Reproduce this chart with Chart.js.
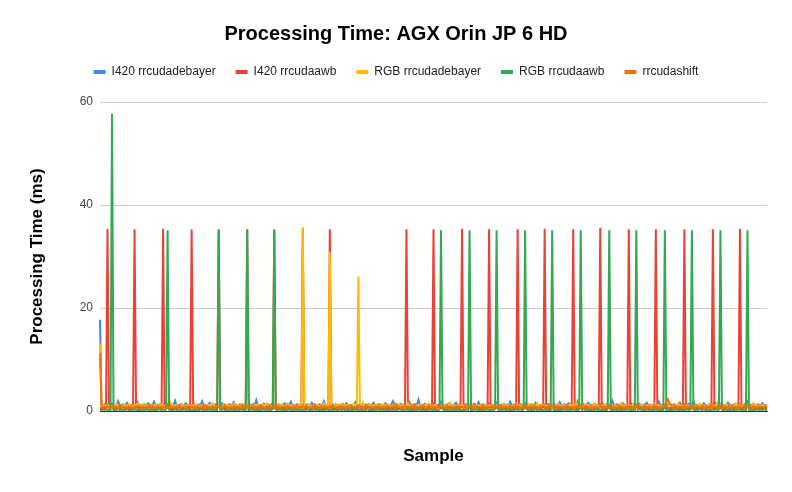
<!DOCTYPE html>
<html>
<head>
<meta charset="utf-8">
<script src="https://cdn.jsdelivr.net/npm/chart.js@4.4.1/dist/chart.umd.min.js"></script>
<style>
  html, body { margin: 0; padding: 0; background: #fff; }
  #wrap { width: 792px; height: 492px; position: relative; }
</style>
</head>
<body>
<div id="wrap"><canvas id="chart"></canvas></div>
<script>
// series names as in the legend
const seriesNames = ['I420 rrcudadebayer', 'I420 rrcudaawb', 'RGB rrcudadebayer', 'RGB rrcudaawb', 'rrcudashift'];
const seriesColors = ['#4285F4', '#EA4335', '#FBBC04', '#34A853', '#FF6D01'];

// per-sample times (ms)
const blueBase = [
  1.1,1.2,1.1,1.3,1.1,1.2,1.1,1.2,1.4,1.1, 1.2,1.1,1.9,1.2,1.1,1.3,1.1,1.2,1.6,1.1,
  1.2,1.1,1.3,1.1,1.2,1.7,1.1,1.2,1.1,1.3, 1.2,1.1,1.5,1.2,1.1,1.2,1.8,1.1,1.2,1.1,
  1.3,1.1,1.2,1.1,1.6,1.2,1.1,1.3,1.1,1.2, 2.0,1.1,1.2,1.1,1.3,1.2,1.1,1.5,1.2,1.1,
  1.2,1.1,1.4,1.1,1.2,1.1,1.3,1.2,1.9,1.1, 1.2,1.1,1.2,1.6,1.1,1.2,1.1,1.3,1.1,1.2,
  1.1,1.5,1.2,1.1,1.2,1.1,1.3,1.1,1.2,1.7, 1.1,1.2,1.1,1.3,1.2,1.1,1.2,1.4,1.1,1.2,
  1.2,1.1,1.3,1.1,2.1,1.2,1.1,1.2,1.1,1.4, 1.2,1.1,1.3,1.1,1.2,1.6,1.1,1.2,1.1,1.3,
  1.1,1.2,1.1,1.5,1.2,1.1,1.2,1.8,1.1,1.2, 1.1,1.3,1.2,1.1,1.4,1.1,1.2,1.1,1.3,1.2,
  1.1,1.6,1.2,1.1,1.2,1.1,1.3,1.2,1.1,1.9, 1.2,1.1,1.2,1.1,1.4,1.2,1.1,1.3,1.1,1.2,
  1.2,1.1,1.3,1.1,1.5,1.2,1.1,1.2,1.1,1.3, 1.7,1.1,1.2,1.1,1.2,1.4,1.1,1.2,1.1,1.3,
  1.1,1.2,1.6,1.1,1.2,1.1,1.3,1.2,1.1,1.2, 1.5,1.1,1.2,1.1,1.3,1.9,1.2,1.1,1.2,1.1,
  1.4,1.2,1.1,1.3,1.1,1.2,1.7,1.1,1.2,1.1, 1.3,1.2,2.2,1.1,1.2,1.1,1.4,1.2,1.1,1.3,
  1.1,1.2,1.5,1.1,1.2,1.1,1.3,1.8,1.1,1.2, 1.1,1.2,1.4,1.1,1.2,1.1,1.3,1.6,1.1,1.2,
  1.2,1.1,1.3,1.1,1.2,1.5,1.1,1.2,1.1,1.4, 1.2,1.1,1.7,1.2,1.1,1.3,1.1,1.2,1.1,1.5,
  1.1,1.2,1.1,1.3,1.6,1.1,1.2,1.1,1.2,1.4, 1.1,1.2,1.1,1.8,1.2,1.1,1.3,1.1,1.2,1.1,
  1.3,1.1,1.2,1.5,1.1,1.2,1.1,1.3,1.2,1.1, 1.6,1.2,1.1,1.2,1.1,1.4,1.2,1.1,1.3,1.1,
  1.2,1.1,1.4,1.1,1.2,1.1,1.7,1.2,1.1,1.3, 1.1,1.2,1.5,1.1,1.2,1.1,1.3,1.2,1.9,1.1,
  1.2,1.1,1.3,1.1,1.2,1.6,1.1,1.2,1.1,1.4, 1.2,1.1,1.2,1.1,1.5,1.2,1.1,1.3,1.1,1.2,
  1.1,2.0,1.2,1.1,1.3,1.1,1.2,1.1,1.5,1.2, 1.1,1.2,1.1,1.7,1.2,1.1,1.3,1.1,1.2,1.4,
  1.1,1.2,1.1,1.3,1.6,1.1,1.2,1.1,1.2,1.4, 1.1,1.2,1.8,1.1,1.2,1.1,1.3,1.2,1.1,1.5,
  1.2,1.1,1.3,1.1,1.2,1.1,1.6,1.2,1.1,1.3, 1.1,1.2,1.4,1.1,1.2,1.9,1.1,1.2,1.1,1.3,
  1.1,1.2,1.5,1.1,1.2,1.1,1.3,1.2,1.1,1.7, 1.2,1.1,1.2,1.4,1.1,1.2,1.1,1.3,1.6,1.1,
  1.2,1.1,1.3,1.1,1.2,1.5,1.1,1.2,1.1,1.3, 1.2,1.8,1.1,1.2,1.1,1.4,1.2,1.1,1.3,1.1,
  1.2,1.5,1.1,1.2,1.1
];
const redBase = [
  0.6,0.5,0.7,0.5,0.6,0.8,0.5,0.6,0.7,0.5, 0.6,0.5,0.7,0.6,0.5,0.8,0.6,0.5,0.7,0.6,
  0.5,0.7,0.6,0.5,0.8,0.6,0.5,0.7,0.5,0.6, 0.7,0.5,0.6,0.8,0.5,0.6,0.7,0.5,0.6,0.5,
  0.7,0.5,0.6,0.8,0.5,0.6,0.7,0.5,0.6,0.5, 0.7,0.6,0.5,0.8,0.6,0.5,0.7,0.6,0.5,0.7,
  0.5,0.6,0.8,0.5,0.6,0.7,0.5,0.6,0.5,0.7, 0.6,0.5,0.8,0.6,0.5,0.7,0.5,0.6,0.7,0.5,
  0.6,0.7,0.5,0.6,0.5,0.8,0.6,0.5,0.7,0.6, 0.5,0.7,0.6,0.5,0.8,0.5,0.6,0.7,0.5,0.6,
  0.8,0.5,0.6,0.7,0.5,0.6,0.5,0.7,0.6,0.5, 0.8,0.6,0.5,0.7,0.5,0.6,0.7,0.5,0.6,0.8,
  0.5,0.6,0.7,0.5,0.6,0.8,0.5,0.7,0.6,0.5, 0.6,0.7,0.5,0.8,0.6,0.5,0.7,0.5,0.6,0.7,
  0.6,0.5,0.8,0.6,0.5,0.7,0.6,0.5,0.7,0.5, 0.6,0.8,0.5,0.6,0.7,0.5,0.6,0.5,0.7,0.6,
  0.5,0.7,0.6,0.5,0.8,0.5,0.6,0.7,0.5,0.6, 0.7,0.5,0.6,0.8,0.5,0.7,0.6,0.5,0.6,0.7,
  0.6,0.5,0.7,0.6,0.5,0.8,0.6,0.5,0.7,0.5, 0.6,0.7,0.5,0.6,0.8,0.5,0.6,0.7,0.5,0.6,
  0.7,0.6,0.5,0.8,0.5,0.6,0.7,0.5,0.6,0.5, 0.8,0.6,0.5,0.7,0.6,0.5,0.7,0.6,0.5,0.8,
  0.5,0.6,0.7,0.5,0.6,0.8,0.5,0.6,0.7,0.5, 0.6,0.5,0.7,0.8,0.5,0.6,0.7,0.5,0.6,0.5,
  0.7,0.5,0.6,0.8,0.5,0.7,0.6,0.5,0.6,0.7, 0.5,0.8,0.6,0.5,0.7,0.5,0.6,0.7,0.5,0.6,
  0.6,0.8,0.5,0.6,0.7,0.5,0.6,0.5,0.8,0.6, 0.5,0.7,0.6,0.5,0.7,0.6,0.5,0.8,0.5,0.6,
  0.7,0.5,0.6,0.7,0.5,0.8,0.6,0.5,0.7,0.6, 0.5,0.6,0.8,0.5,0.6,0.7,0.5,0.6,0.7,0.5,
  0.6,0.7,0.5,0.8,0.6,0.5,0.7,0.5,0.6,0.8, 0.5,0.6,0.7,0.5,0.6,0.5,0.8,0.6,0.5,0.7,
  0.5,0.6,0.8,0.5,0.7,0.6,0.5,0.7,0.6,0.5, 0.8,0.6,0.5,0.7,0.5,0.6,0.7,0.5,0.8,0.6,
  0.7,0.5,0.6,0.7,0.5,0.8,0.6,0.5,0.6,0.7, 0.5,0.6,0.8,0.5,0.7,0.6,0.5,0.7,0.6,0.5,
  0.6,0.8,0.5,0.6,0.7,0.5,0.6,0.8,0.5,0.7, 0.6,0.5,0.7,0.6,0.5,0.8,0.6,0.5,0.7,0.6,
  0.5,0.7,0.6,0.5,0.8,0.6,0.5,0.7,0.6,0.5, 0.7,0.5,0.6,0.8,0.5,0.6,0.7,0.5,0.6,0.8,
  0.6,0.5,0.7,0.6,0.5,0.8,0.6,0.7,0.5,0.6, 0.5,0.7,0.6,0.5,0.8,0.6,0.5,0.7,0.6,0.5,
  0.7,0.6,0.5,0.8,0.6,0.5,0.7,0.5,0.6,0.7, 0.5,0.8,0.6,0.5,0.7,0.6,0.5,0.6,0.7,0.5,
  0.6,0.5,0.7,0.6,0.5
];
const yellowBase = [
  1.0,1.2,0.9,1.1,1.0,1.3,0.9,1.1,1.0,1.2, 0.9,1.4,1.0,1.1,0.9,1.2,1.0,1.1,0.9,1.3,
  1.0,1.1,0.9,1.2,1.0,1.5,0.9,1.1,1.0,1.2, 0.9,1.1,1.0,1.3,0.9,1.1,1.0,1.2,0.9,1.1,
  1.0,1.3,0.9,1.1,1.0,1.2,0.9,1.6,1.0,1.1, 0.9,1.2,1.0,1.1,0.9,1.3,1.0,1.1,0.9,1.2,
  1.0,1.1,0.9,1.4,1.0,1.2,0.9,1.1,1.0,1.3, 0.9,1.1,1.0,1.2,0.9,1.5,1.0,1.1,0.9,1.2,
  1.0,1.1,0.9,1.3,1.0,1.2,0.9,1.1,1.0,1.4, 0.9,1.1,1.0,1.2,0.9,1.1,1.0,1.6,0.9,1.2,
  1.0,1.1,0.9,1.2,1.0,1.3,0.9,1.1,1.0,1.2, 0.9,1.5,1.0,1.1,0.9,1.2,1.0,1.1,0.9,1.3,
  1.0,1.2,0.9,1.1,1.0,1.4,0.9,1.1,1.0,1.2, 0.9,1.1,1.0,1.3,0.9,1.2,1.0,1.1,0.9,1.2,
  1.0,1.1,0.9,1.3,1.0,1.2,0.9,1.1,1.0,1.5, 0.9,1.1,1.0,1.2,0.9,1.1,1.0,1.3,0.9,1.2,
  1.0,1.4,0.9,1.1,1.0,1.2,0.9,1.1,1.0,1.3, 0.9,1.2,1.0,1.1,0.9,1.6,1.0,1.1,0.9,1.2,
  1.0,1.1,0.9,1.2,1.0,1.3,0.9,1.1,1.0,1.2, 0.9,1.4,1.0,1.1,0.9,1.2,1.0,1.1,0.9,1.3,
  1.0,1.2,0.9,1.1,1.0,1.5,0.9,1.1,1.0,1.2, 0.9,1.1,1.0,1.3,0.9,1.1,1.0,1.2,0.9,1.4,
  1.0,1.1,0.9,1.2,1.0,1.1,0.9,1.3,1.0,1.2, 0.9,1.1,1.0,1.6,0.9,1.1,1.0,1.2,0.9,1.1,
  1.0,1.3,0.9,1.1,1.0,1.2,0.9,1.4,1.0,1.1, 0.9,1.2,1.0,1.1,0.9,1.3,1.0,1.2,0.9,1.1,
  1.0,1.2,0.9,1.5,1.0,1.1,0.9,1.2,1.0,1.3, 0.9,1.1,1.0,1.2,0.9,1.1,1.0,1.4,0.9,1.2,
  1.0,1.1,0.9,1.2,1.0,1.3,0.9,1.1,1.0,1.2, 0.9,1.5,1.0,1.1,0.9,1.2,1.0,1.1,0.9,1.3,
  1.0,1.2,0.9,1.1,1.0,1.4,0.9,1.1,1.0,1.2, 0.9,1.1,1.0,1.3,0.9,1.2,1.0,1.6,0.9,1.1,
  1.0,1.1,0.9,1.3,1.0,1.2,0.9,1.1,1.0,1.4, 0.9,1.1,1.0,1.2,0.9,1.1,1.0,1.3,0.9,1.2,
  1.0,1.2,0.9,1.1,1.0,1.3,0.9,1.5,1.0,1.1, 0.9,1.2,1.0,1.1,0.9,1.4,1.0,1.2,0.9,1.1,
  1.0,1.3,0.9,1.1,1.0,1.2,0.9,1.1,1.0,1.4, 0.9,1.2,1.0,1.1,0.9,1.3,1.0,1.1,0.9,1.2,
  1.0,1.1,0.9,1.2,1.0,1.5,0.9,1.1,1.0,1.2, 0.9,1.1,1.0,1.3,0.9,1.2,1.0,1.1,0.9,1.4,
  1.0,1.2,0.9,1.1,1.0,1.3,0.9,1.2,1.0,1.1, 0.9,1.6,1.0,1.2,0.9,1.1,1.0,1.3,0.9,1.1,
  1.0,1.1,0.9,1.4,1.0,1.2,0.9,1.1,1.0,1.3, 0.9,1.2,1.0,1.1,0.9,1.5,1.0,1.2,0.9,1.1,
  1.0,1.2,0.9,1.1,1.0
];
const greenBase = [
  0.3,0.2,0.3,0.2,0.4,0.2,0.3,0.2,0.3,0.1, 0.3,0.2,0.4,0.2,0.3,0.2,0.3,0.2,0.4,0.2,
  0.2,0.3,0.2,0.4,0.2,0.3,0.1,0.3,0.2,0.3, 0.2,0.4,0.2,0.3,0.2,0.3,0.1,0.3,0.2,0.4,
  0.3,0.2,0.4,0.2,0.3,0.2,0.3,0.1,0.3,0.2, 0.4,0.2,0.3,0.2,0.3,0.2,0.4,0.2,0.3,0.1,
  0.2,0.3,0.2,0.3,0.1,0.3,0.2,0.4,0.2,0.3, 0.2,0.3,0.2,0.4,0.2,0.3,0.1,0.3,0.2,0.3,
  0.3,0.2,0.4,0.2,0.3,0.2,0.3,0.2,0.4,0.1, 0.3,0.2,0.3,0.2,0.4,0.2,0.3,0.2,0.3,0.1,
  0.2,0.4,0.2,0.3,0.2,0.3,0.1,0.3,0.2,0.4, 0.2,0.3,0.2,0.3,0.2,0.4,0.1,0.3,0.2,0.3,
  0.3,0.2,0.3,0.1,0.3,0.2,0.4,0.2,0.3,0.2, 0.3,0.2,0.4,0.1,0.3,0.2,0.3,0.2,0.4,0.2,
  0.2,0.3,0.2,0.4,0.2,0.3,0.2,0.3,0.1,0.3, 0.2,0.4,0.2,0.3,0.2,0.3,0.2,0.4,0.1,0.3,
  0.3,0.2,0.4,0.2,0.3,0.1,0.3,0.2,0.3,0.2, 0.4,0.2,0.3,0.2,0.3,0.1,0.3,0.2,0.4,0.2,
  0.2,0.3,0.1,0.3,0.2,0.4,0.2,0.3,0.2,0.3, 0.2,0.3,0.1,0.4,0.2,0.3,0.2,0.3,0.2,0.4,
  0.3,0.2,0.3,0.2,0.4,0.2,0.3,0.1,0.3,0.2, 0.3,0.2,0.4,0.2,0.3,0.2,0.3,0.1,0.3,0.2,
  0.4,0.2,0.3,0.2,0.3,0.1,0.3,0.2,0.4,0.2, 0.3,0.2,0.3,0.2,0.4,0.1,0.3,0.2,0.3,0.2,
  0.3,0.1,0.3,0.2,0.4,0.2,0.3,0.2,0.3,0.2, 0.4,0.2,0.3,0.1,0.3,0.2,0.3,0.2,0.4,0.2,
  0.2,0.3,0.2,0.4,0.1,0.3,0.2,0.3,0.2,0.4, 0.2,0.3,0.2,0.3,0.1,0.3,0.2,0.4,0.2,0.3,
  0.3,0.2,0.3,0.2,0.4,0.2,0.3,0.1,0.3,0.2, 0.4,0.2,0.3,0.2,0.3,0.2,0.4,0.1,0.3,0.2,
  0.2,0.4,0.2,0.3,0.2,0.3,0.1,0.3,0.2,0.4, 0.2,0.3,0.2,0.3,0.2,0.4,0.2,0.3,0.1,0.3,
  0.3,0.2,0.4,0.2,0.3,0.2,0.3,0.1,0.3,0.2, 0.4,0.2,0.3,0.2,0.3,0.2,0.3,0.1,0.4,0.2,
  0.2,0.3,0.2,0.3,0.2,0.4,0.1,0.3,0.2,0.3, 0.2,0.4,0.2,0.3,0.1,0.3,0.2,0.3,0.2,0.4,
  0.3,0.2,0.3,0.1,0.4,0.2,0.3,0.2,0.3,0.2, 0.4,0.2,0.3,0.1,0.3,0.2,0.4,0.2,0.3,0.2,
  0.2,0.3,0.2,0.4,0.2,0.3,0.2,0.3,0.1,0.3, 0.2,0.4,0.2,0.3,0.2,0.3,0.1,0.3,0.2,0.4,
  0.3,0.2,0.4,0.2,0.3,0.1,0.3,0.2,0.3,0.2, 0.4,0.2,0.3,0.2,0.3,0.1,0.4,0.2,0.3,0.2,
  0.2,0.3,0.1,0.3,0.2,0.4,0.2,0.3,0.2,0.3, 0.2,0.4,0.1,0.3,0.2,0.3,0.2,0.4,0.2,0.3,
  0.3,0.2,0.4,0.2,0.3
];
const orangeBase = [
  0.7,0.9,0.5,0.8,0.6,1.0,0.5,0.8,0.7,0.9, 0.6,0.8,0.5,1.1,0.7,0.9,0.6,0.8,0.5,0.9,
  0.6,0.8,0.5,0.9,0.7,1.0,0.6,0.8,0.5,0.9, 0.7,0.8,0.6,1.2,0.5,0.9,0.7,0.8,0.6,0.9,
  0.5,0.9,0.7,0.8,0.6,1.0,0.5,0.9,0.7,0.8, 0.6,0.9,0.5,1.1,0.7,0.8,0.6,0.9,0.5,1.0,
  0.7,0.8,0.6,0.9,0.5,1.0,0.7,0.8,0.6,1.2, 0.5,0.9,0.7,0.8,0.6,0.9,0.5,1.0,0.7,0.8,
  0.6,0.9,0.5,1.1,0.7,0.8,0.6,0.9,0.5,1.0, 0.7,0.8,0.6,0.9,0.5,1.2,0.7,0.8,0.6,0.9,
  0.5,1.0,0.7,0.8,0.6,0.9,0.5,1.1,0.7,0.8, 0.6,0.9,0.5,1.0,0.7,0.8,0.6,1.3,0.5,0.9,
  0.7,0.8,0.6,0.9,0.5,1.0,0.7,0.8,0.6,0.9, 0.5,1.1,0.7,0.8,0.6,0.9,0.5,1.0,0.7,0.8,
  0.6,0.9,0.5,1.2,0.7,0.8,0.6,0.9,0.5,1.0, 0.7,0.8,0.6,0.9,0.5,1.1,0.7,0.8,0.6,0.9,
  0.5,1.0,0.7,0.8,0.6,0.9,0.5,1.1,0.7,0.8, 0.6,0.9,0.5,1.0,0.7,0.8,0.6,1.2,0.5,0.9,
  0.7,0.8,0.6,0.9,0.5,1.1,0.7,0.8,0.6,0.9, 0.5,1.0,0.7,0.8,0.6,0.9,0.5,1.3,0.7,0.8,
  0.6,0.9,0.5,1.0,0.7,0.8,0.6,0.9,0.5,1.2, 0.7,0.8,0.6,0.9,0.5,1.0,0.7,0.8,0.6,1.1,
  0.5,0.9,0.7,0.8,0.6,1.0,0.5,0.9,0.7,0.8, 0.6,1.1,0.5,0.9,0.7,0.8,0.6,1.0,0.5,0.9,
  0.7,0.8,0.6,1.2,0.5,0.9,0.7,0.8,0.6,1.0, 0.5,0.9,0.7,0.8,0.6,1.1,0.5,0.9,0.7,0.8,
  0.6,1.0,0.5,0.9,0.7,0.8,0.6,1.1,0.5,0.9, 0.7,0.8,0.6,1.0,0.5,0.9,0.7,1.2,0.6,0.8,
  0.5,0.9,0.7,1.0,0.6,0.8,0.5,0.9,0.7,1.1, 0.6,0.8,0.5,0.9,0.7,1.0,0.6,0.8,0.5,1.2,
  0.7,0.8,0.6,0.9,0.5,1.0,0.7,0.8,0.6,0.9, 0.5,1.1,0.7,0.8,0.6,0.9,0.5,1.0,0.7,0.8,
  0.6,1.1,0.5,0.9,0.7,0.8,0.6,1.0,0.5,0.9, 0.7,0.8,0.6,1.2,0.5,0.9,0.7,0.8,0.6,1.0,
  0.5,0.9,0.7,0.8,0.6,1.1,0.5,0.9,0.7,0.8, 0.6,1.0,0.5,0.9,0.7,0.8,0.6,1.1,0.5,0.9,
  0.7,0.8,0.6,1.0,0.5,0.9,0.7,0.8,0.6,1.1, 0.5,0.9,0.7,0.8,0.6,1.0,0.9,1.8,2.3,1.6,
  1.2,0.8,0.6,1.0,0.5,0.9,0.7,0.8,0.6,1.1, 0.5,0.9,0.7,0.8,0.6,1.0,0.5,0.9,0.7,0.8,
  0.6,1.0,0.5,0.9,0.7,0.8,0.6,1.2,0.5,0.9, 0.7,0.8,0.6,1.0,0.5,0.9,0.7,0.8,0.6,1.1,
  0.5,0.9,0.7,0.8,0.6,1.0,0.5,0.9,0.7,1.1, 0.6,0.8,0.5,0.9,0.7,1.0,0.6,0.8,0.5,0.9,
  0.7,0.8,0.6,0.9,0.7
];

// the tall spikes: [sample index, ms]
const blueSpikes = [[0, 17.7]];
const redSpikes = [
  [5, 35.4], [23, 35.3], [42, 35.4], [61, 35.3], [79, 35.3], [98, 35.3], [116, 35.3], [135, 35.3], [153, 35.3],
  [204, 35.3], [222, 35.3], [241, 35.4], [259, 35.3], [278, 35.3], [296, 35.4], [315, 35.3], [333, 35.6],
  [352, 35.3], [370, 35.3], [389, 35.3], [408, 35.3], [426, 35.4]
];
const yellowSpikes = [[0, 13.1], [135, 35.7], [153, 30.9], [172, 26.1]];
const greenSpikes = [
  [8, 57.7], [45, 35.1], [79, 35.2], [98, 35.2], [116, 35.2],
  [227, 35.1], [246, 35.1], [264, 35.1], [283, 35.1], [301, 35.1], [320, 35.1], [339, 35.1],
  [357, 35.1], [376, 35.1], [394, 35.1], [413, 35.1], [431, 35.1]
];
const orangeSpikes = [[0, 11.2]];

const yTicks = [0, 20, 40, 60];

function withSpikes(base, spikes) {
  const out = base.slice();
  spikes.forEach(([i, v]) => { out[i] = v; });
  return out;
}

const seriesData = [
  withSpikes(blueBase, blueSpikes),
  withSpikes(redBase, redSpikes),
  withSpikes(yellowBase, yellowSpikes),
  withSpikes(greenBase, greenSpikes),
  withSpikes(orangeBase, orangeSpikes)
];
const sampleLabels = blueBase.map((_, i) => String(i + 1));

Chart.defaults.font.family = '"Liberation Sans", Arial, sans-serif';

new Chart(document.getElementById('chart'), {
  type: 'line',
  data: {
    labels: sampleLabels,
    datasets: seriesData.map((d, k) => ({
      label: seriesNames[k],
      data: d,
      borderColor: seriesColors[k],
      backgroundColor: seriesColors[k],
      borderWidth: 2,
      pointRadius: 0,
      tension: 0,
      yAxisID: 'y',
      order: 5 - k // later series on top, like the original
    }))
  },
  options: {
    responsive: true,
    maintainAspectRatio: false,
    animation: false,
    layout: { padding: 0 },
    plugins: {
      title: {
        display: true,
        text: 'Processing Time: AGX Orin JP 6 HD',
        color: '#000',
        font: { size: 20, weight: 'bold' },
        padding: { top: 22, bottom: 0 }
      },
      // empty spacer between legend and plot
      subtitle: {
        display: true,
        text: ' ',
        position: 'top',
        weight: 500,
        font: { size: 10, lineHeight: 1 },
        padding: { top: 0, bottom: 4 }
      },
      legend: {
        labels: {
          boxWidth: 12,
          boxHeight: 4,
          padding: 20,
          color: '#222',
          font: { size: 12 },
          sort: (a, b) => a.datasetIndex - b.datasetIndex,
          generateLabels: chart => Chart.defaults.plugins.legend.labels.generateLabels(chart)
            .map(item => Object.assign(item, { lineWidth: 0 }))
        }
      },
      tooltip: { enabled: false }
    },
    scales: {
      x: {
        ticks: { display: false },
        grid: { display: false },
        border: { color: '#333', width: 1 },
        title: {
          display: true,
          text: 'Sample',
          color: '#000',
          font: { size: 17, weight: 'bold' },
          padding: { top: 0, bottom: 25 }
        },
        afterFit: s => { s.height = 81; }
      },
      y: {
        min: 0,
        max: 60,
        afterBuildTicks: s => { s.ticks = yTicks.map(v => ({ value: v })); },
        ticks: { padding: 7, color: '#444', font: { size: 12 } },
        grid: { color: '#ccc', drawTicks: false },
        border: { display: false },
        title: {
          display: true,
          text: 'Processing Time (ms)',
          color: '#000',
          font: { size: 17, weight: 'bold' },
          padding: { top: 27, bottom: 0 }
        },
        afterFit: s => { s.width = 100; }
      },
      yRight: {
        position: 'right',
        display: true,
        grid: { display: false },
        ticks: { display: false },
        border: { display: false },
        afterFit: s => { s.width = 25; }
      }
    }
  }
});
</script>
</body>
</html>
